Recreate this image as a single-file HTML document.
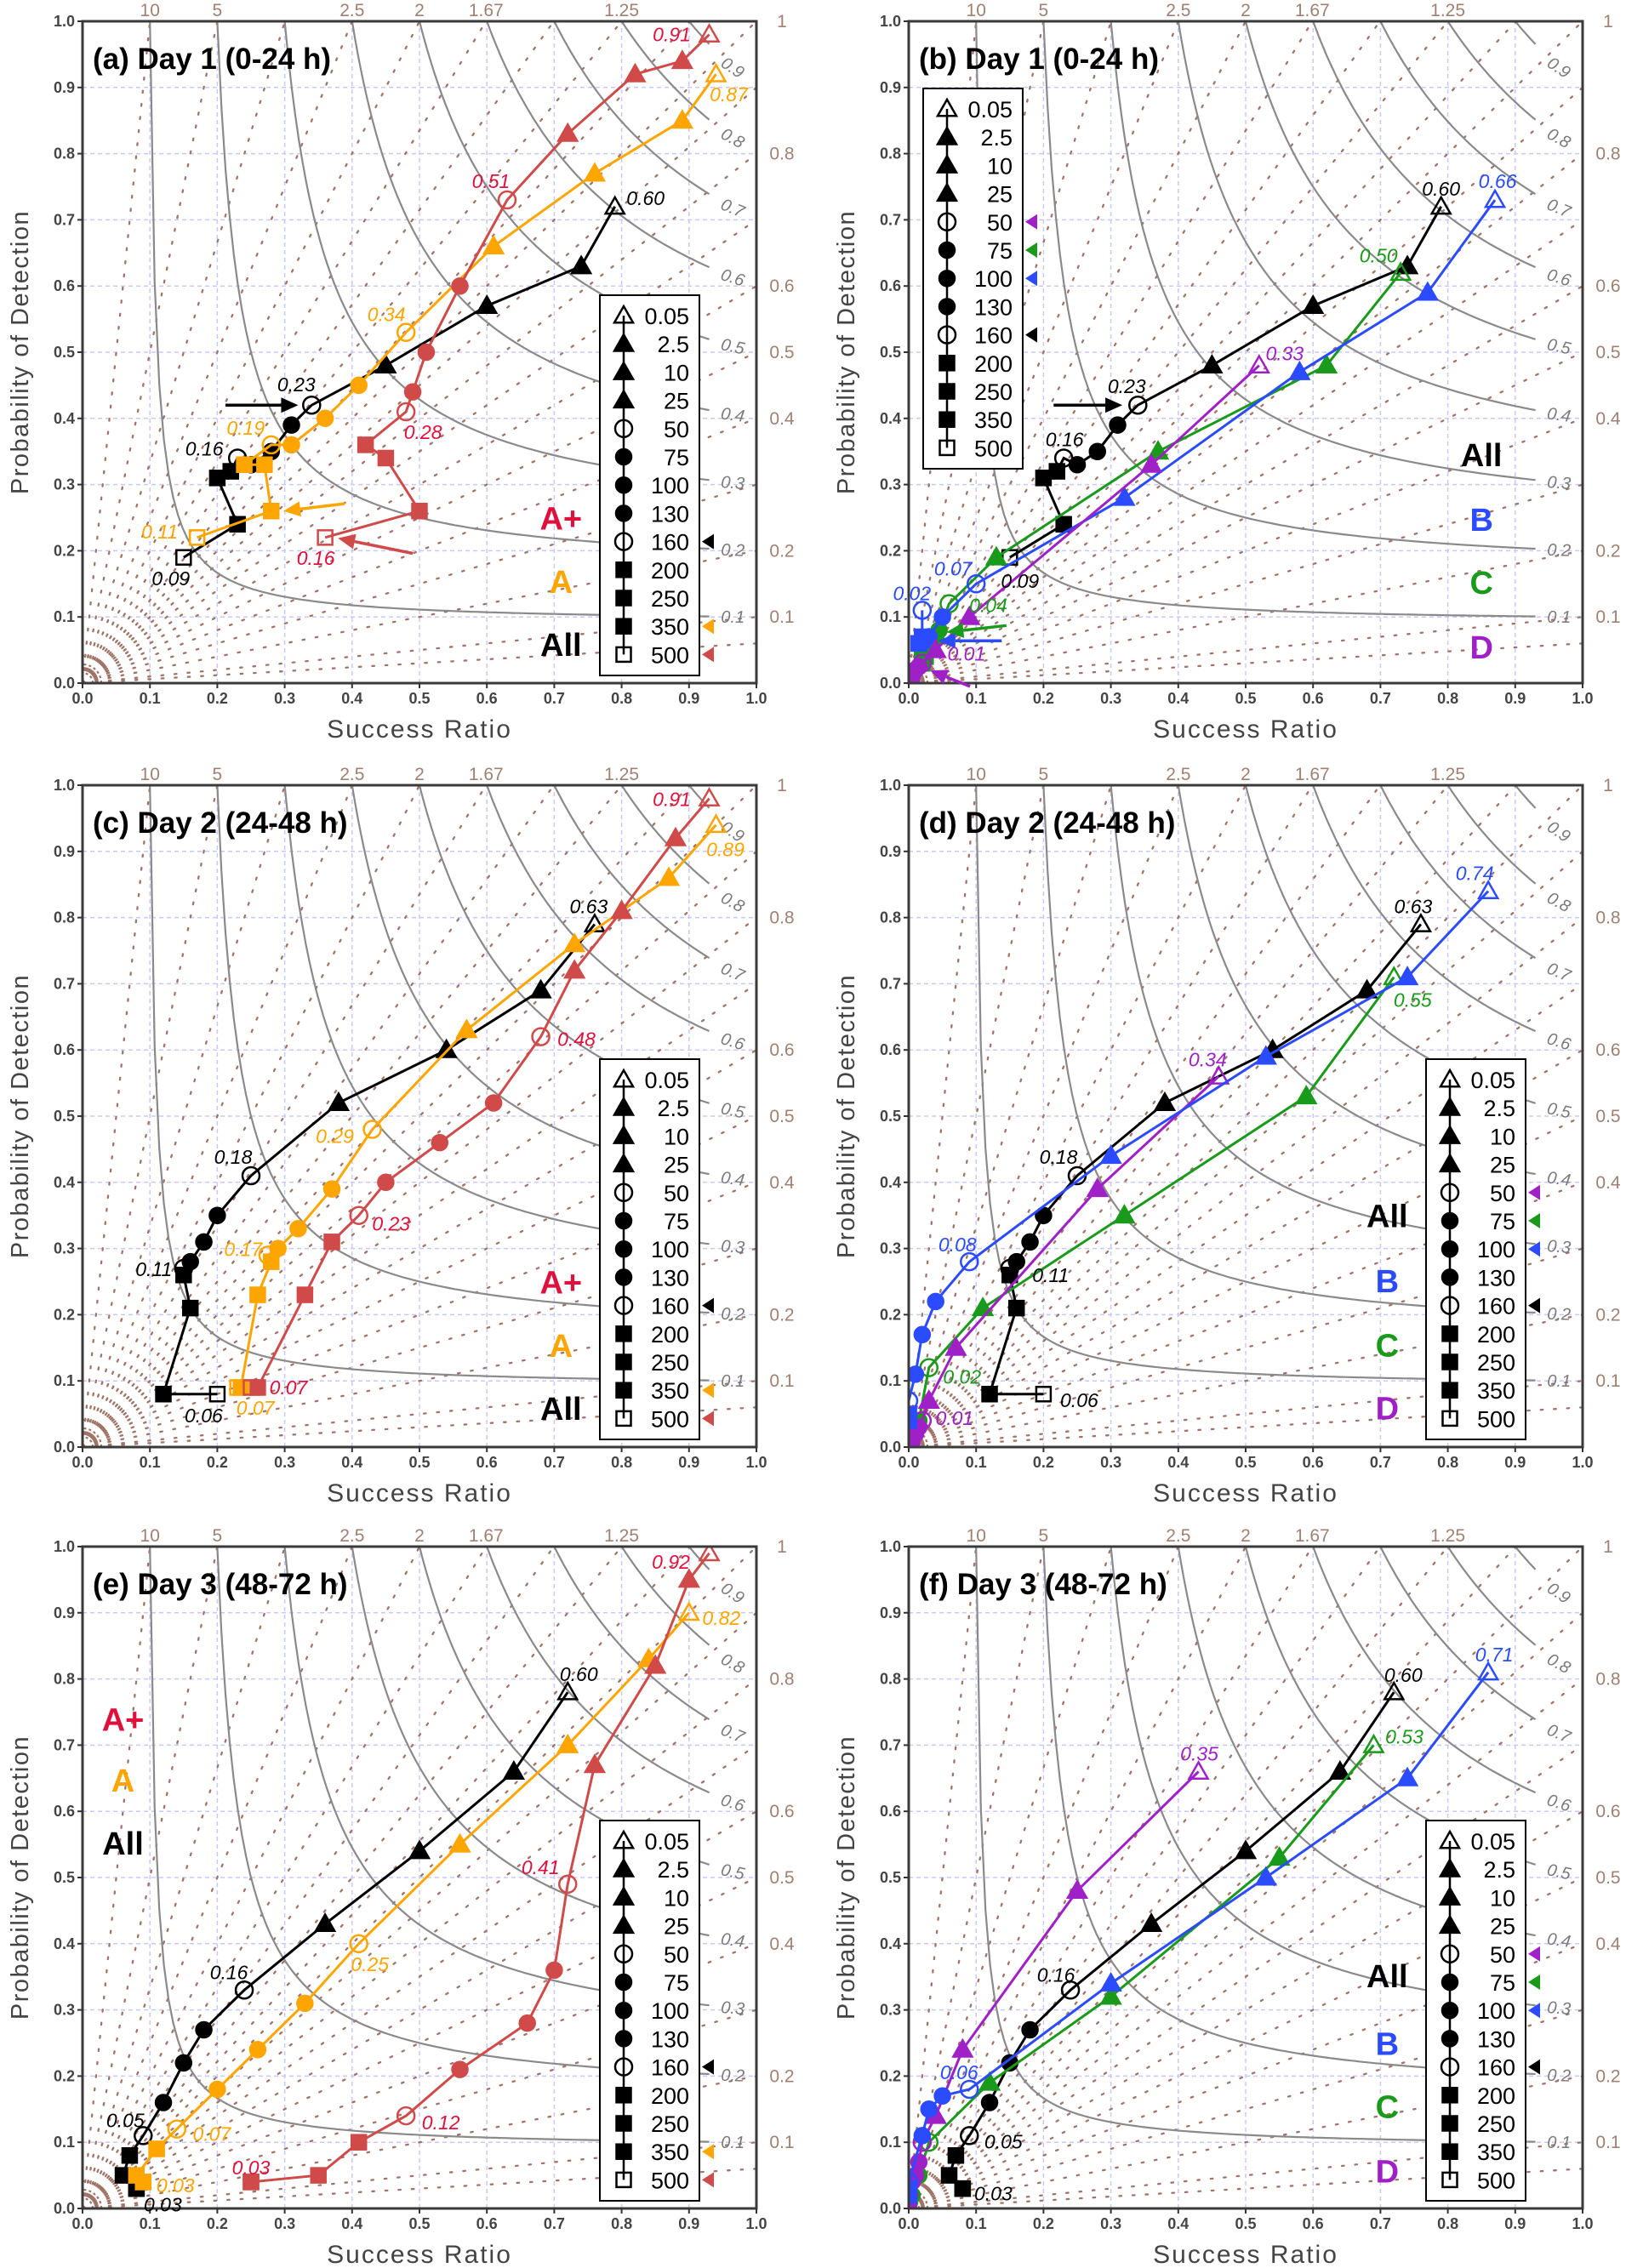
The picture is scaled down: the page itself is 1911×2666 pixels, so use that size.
<!DOCTYPE html>
<html><head><meta charset="utf-8"><title>Performance diagrams</title>
<style>
html,body{margin:0;padding:0;background:#fff;}
svg{display:block;}
text{font-family:"Liberation Sans",sans-serif;}
</style></head>
<body>
<svg id="fig" xmlns="http://www.w3.org/2000/svg" width="1911" height="2666" viewBox="0 0 1911 2666">
<rect x="0" y="0" width="1911" height="2666" fill="#fff"/>
</svg>
<script>
// ---- data ----
const thresholds = ['0.05','2.5','10','25','50','75','100','130','160','200','250','350','500'];
const markerKinds = ['otri','tri','tri','tri','ocirc','circ','circ','circ','ocirc','sq','sq','sq','osq'];
const csiLevels = [0.1,0.2,0.3,0.4,0.5,0.6,0.7,0.8,0.9];
const biasLevels = [0.06,0.1,0.2,0.3,0.4,0.5,0.6,0.7,0.8,0.9,1,1.11,1.25,1.43,1.67,2,2.5,3.33,5,10];
const topBiasLabels = ['10','5','2.5','2','1.67','1.25'];
const topBiasValues = [10,5,2.5,2,1.67,1.25];
const rightBiasLabels = ['1','0.8','0.6','0.5','0.4','0.2','0.1'];
const rightBiasValues = [1,0.8,0.6,0.5,0.4,0.2,0.1];
const tickValues = [0,0.1,0.2,0.3,0.4,0.5,0.6,0.7,0.8,0.9,1.0];

const d1AllSR  = [0.79,0.74,0.60,0.45,0.34,0.31,0.28,0.25,0.23,0.22,0.20,0.23,0.15];
const d1AllPOD = [0.72,0.63,0.57,0.48,0.42,0.39,0.35,0.33,0.34,0.32,0.31,0.24,0.19];
const aASR  = [0.94,0.89,0.76,0.61,0.48,0.41,0.36,0.31,0.28,0.24,0.27,0.28,0.17];
const aAPOD = [0.92,0.85,0.77,0.66,0.53,0.45,0.40,0.36,0.36,0.33,0.33,0.26,0.22];
const aAPlusSR  = [0.93,0.89,0.82,0.72,0.63,0.56,0.51,0.49,0.48,0.42,0.45,0.50,0.36];
const aAPlusPOD = [0.98,0.94,0.92,0.83,0.73,0.60,0.50,0.44,0.41,0.36,0.34,0.26,0.22];
const bBSR  = [0.87,0.77,0.58,0.32,0.10,0.05,0.03,0.02,0.02,0.02,0.02,0.015,0.015];
const bBPOD = [0.73,0.59,0.47,0.28,0.15,0.10,0.07,0.065,0.11,0.07,0.065,0.06,0.06];
const bCSR  = [0.73,0.62,0.37,0.13,0.06,0.045,0.04,0.035,0.03,0.025,0.02,0.02,0.02];
const bCPOD = [0.62,0.48,0.35,0.19,0.12,0.08,0.07,0.06,0.05,0.04,0.035,0.03,0.03];
const bDSR  = [0.52,0.36,0.09,0.04,0.02,0.015,0.01,0.01,0.005,0.005,0.0,0.0,0.0];
const bDPOD = [0.48,0.33,0.10,0.05,0.03,0.025,0.02,0.02,0.015,0.01,0.01,0.005,0.005];

const d2AllSR  = [0.76,0.68,0.54,0.38,0.25,0.20,0.18,0.16,0.15,0.15,0.16,0.12,0.20];
const d2AllPOD = [0.79,0.69,0.60,0.52,0.41,0.35,0.31,0.28,0.27,0.26,0.21,0.08,0.08];
const cASR  = [0.94,0.87,0.73,0.57,0.43,0.37,0.32,0.29,0.275,0.28,0.26,0.235,0.23];
const cAPOD = [0.94,0.86,0.76,0.63,0.48,0.39,0.33,0.30,0.29,0.28,0.23,0.09,0.09];
const cAPlusSR  = [0.93,0.88,0.80,0.73,0.68,0.61,0.53,0.45,0.41,0.37,0.33,0.26,0.25];
const cAPlusPOD = [0.98,0.92,0.81,0.72,0.62,0.52,0.46,0.40,0.35,0.31,0.23,0.09,0.09];
const dBSR  = [0.86,0.74,0.53,0.30,0.09,0.04,0.02,0.01,0.0,0.0,0.0,0.0,0.0];
const dBPOD = [0.84,0.71,0.59,0.44,0.28,0.22,0.17,0.11,0.07,0.05,0.05,0.04,0.04];
const dCSR  = [0.72,0.59,0.32,0.11,0.03,0.015,0.01,0.005,0.005,0.0,0.0,0.0,0.0];
const dCPOD = [0.71,0.53,0.35,0.21,0.12,0.04,0.03,0.025,0.02,0.02,0.02,0.02,0.02];
const dDSR  = [0.46,0.28,0.07,0.03,0.02,0.015,0.01,0.01,0.005,0.005,0.0,0.0,0.0];
const dDPOD = [0.56,0.39,0.15,0.07,0.04,0.03,0.025,0.02,0.015,0.01,0.01,0.005,0.005];

const d3AllSR  = [0.72,0.64,0.50,0.36,0.24,0.18,0.15,0.12,0.09,0.07,0.06,0.08,0.08];
const d3AllPOD = [0.78,0.66,0.54,0.43,0.33,0.27,0.22,0.16,0.11,0.08,0.05,0.03,0.03];
const eASR  = [0.90,0.84,0.72,0.56,0.41,0.33,0.26,0.20,0.14,0.11,0.08,0.09,0.09];
const eAPOD = [0.90,0.83,0.70,0.55,0.40,0.31,0.24,0.18,0.12,0.09,0.05,0.04,0.04];
const eAPlusSR  = [0.93,0.90,0.85,0.76,0.72,0.70,0.66,0.56,0.48,0.41,0.35,0.25,0.25];
const eAPlusPOD = [0.99,0.95,0.82,0.67,0.49,0.36,0.28,0.21,0.14,0.10,0.05,0.04,0.04];
const fBSR  = [0.86,0.74,0.53,0.30,0.09,0.05,0.03,0.02,0.0,0.0,0.0,0.0,0.0];
const fBPOD = [0.81,0.65,0.50,0.34,0.18,0.17,0.15,0.11,0.04,0.03,0.03,0.02,0.02];
const fCSR  = [0.69,0.55,0.30,0.12,0.03,0.015,0.005,0.0,0.0,0.0,0.0,0.0,0.0];
const fCPOD = [0.70,0.53,0.32,0.19,0.10,0.05,0.02,0.01,0.01,0.01,0.01,0.01,0.01];
const fDSR  = [0.43,0.25,0.08,0.04,0.02,0.015,0.01,0.005,0.0,0.0,0.0,0.0,0.0];
const fDPOD = [0.66,0.48,0.24,0.14,0.10,0.07,0.05,0.04,0.02,0.02,0.015,0.01,0.01];

// ---- style ----
const C = {black:'#000', orange:'#ffa500', red:'#d04a4a', blue:'#2a4bff', green:'#1a9a1a', purple:'#a020c8'};
const TXT = {black:'#000', orange:'#ffa500', red:'#e0103c', blue:'#2a4bff', green:'#1a9a1a', purple:'#a020c8'};
const W = 792, H = 778;

const panels = [
 {id:'a', title:'(a) Day 1 (0-24 h)', x0:97, y0:25, legend:'right', side:[[8,'black'],[11,'orange'],[12,'red']],
  series:[['all','black',d1AllSR,d1AllPOD],['a','orange',aASR,aAPOD],['a-plus','red',aAPlusSR,aAPlusPOD]],
  ann:[['black',0,'0.60',36,-10],['black',4,'0.23',-18,-24],['black',8,'0.16',-39,-11],['black',12,'0.09',-15,25],
       ['orange',0,'0.87',15,24],['orange',4,'0.34',-23,-21],['orange',8,'0.19',-30,-20],['orange',12,'0.11',-44,-7],
       ['red',0,'0.91',-44,0],['red',4,'0.51',-19,-22],['red',8,'0.28',20,24],['red',12,'0.16',-11,24]],
  arrows:[['black',0.212,0.42,0.32,0.42],['orange',0.389,0.271,0.298,0.26],['red',0.49,0.196,0.379,0.219]],
  groups:[['A+','red',0.71,0.25],['A','orange',0.71,0.154],['All','black',0.71,0.059]]},
 {id:'b', title:'(b) Day 1 (0-24 h)', x0:1068, y0:25, legend:'left', side:[[4,'purple'],[5,'green'],[6,'blue'],[8,'black']],
  series:[['all','black',d1AllSR,d1AllPOD],['c','green',bCSR,bCPOD],['b','blue',bBSR,bBPOD],['d','purple',bDSR,bDPOD]],
  ann:[['black',0,'0.60',0,-21],['black',4,'0.23',-13,-22],['black',8,'0.16',1,-22],['black',12,'0.09',12,28],
       ['blue',0,'0.66',3,-22],['blue',4,'0.07',-27,-18],['blue',8,'0.02',-12,-20],
       ['green',0,'0.50',-26,-20],['green',4,'0.04',46,2],['purple',0,'0.33',30,-14],['purple',4,'0.01',52,-11]],
  arrows:[['black',0.215,0.42,0.317,0.42],['green',0.145,0.087,0.056,0.077],['blue',0.138,0.064,0.044,0.064],['purple',0.091,-0.005,0.032,0.019]],
  groups:[['All','black',0.85,0.346],['B','blue',0.85,0.248],['C','green',0.85,0.153],['D','purple',0.85,0.055]]},
 {id:'c', title:'(c) Day 2 (24-48 h)', x0:97, y0:923, legend:'right', side:[[8,'black'],[11,'orange'],[12,'red']],
  series:[['all','black',d2AllSR,d2AllPOD],['a','orange',cASR,cAPOD],['a-plus','red',cAPlusSR,cAPlusPOD]],
  ann:[['black',0,'0.63',-7,-21],['black',4,'0.18',-21,-22],['black',8,'0.11',-35,1],['black',12,'0.06',-16,25],
       ['orange',0,'0.89',11,29],['orange',4,'0.29',-44,8],['orange',8,'0.17',-29,-7],['orange',12,'0.07',21,24],
       ['red',0,'0.91',-44,1],['red',4,'0.48',42,3],['red',8,'0.23',38,10],['red',12,'0.07',44,0]],
  arrows:[],
  groups:[['A+','red',0.71,0.25],['A','orange',0.71,0.154],['All','black',0.71,0.059]]},
 {id:'d', title:'(d) Day 2 (24-48 h)', x0:1068, y0:923, legend:'right', side:[[4,'purple'],[5,'green'],[6,'blue'],[8,'black']],
  series:[['all','black',d2AllSR,d2AllPOD],['c','green',dCSR,dCPOD],['d','purple',dDSR,dDPOD],['b','blue',dBSR,dBPOD]],
  ann:[['black',0,'0.63',-9,-21],['black',4,'0.18',-22,-22],['black',8,'0.11',48,8],['black',12,'0.06',42,7],
       ['blue',0,'0.74',-16,-21],['blue',4,'0.08',-14,-20],['green',0,'0.55',22,27],['green',4,'0.02',39,11],
       ['purple',0,'0.34',-13,-20],['purple',4,'0.01',38,-3]],
  arrows:[],
  groups:[['All','black',0.71,0.35],['B','blue',0.71,0.252],['C','green',0.71,0.155],['D','purple',0.71,0.06]]},
 {id:'e', title:'(e) Day 3 (48-72 h)', x0:97, y0:1818, legend:'right', side:[[8,'black'],[11,'orange'],[12,'red']],
  series:[['all','black',d3AllSR,d3AllPOD],['a','orange',eASR,eAPOD],['a-plus','red',eAPlusSR,eAPlusPOD]],
  ann:[['black',0,'0.60',13,-21],['black',4,'0.16',-18,-21],['black',8,'0.05',-21,-18],['black',12,'0.03',31,19],
       ['orange',0,'0.82',38,6],['orange',4,'0.25',13,24],['orange',8,'0.07',41,6],['orange',12,'0.03',38,4],
       ['red',0,'0.92',-45,10],['red',4,'0.41',-32,-20],['red',8,'0.12',41,8],['red',12,'0.03',0,-17]],
  arrows:[],
  groups:[['A+','red',0.06,0.74],['A','orange',0.06,0.648],['All','black',0.06,0.553]]},
 {id:'f', title:'(f) Day 3 (48-72 h)', x0:1068, y0:1818, legend:'right', side:[[4,'purple'],[5,'green'],[6,'blue'],[8,'black']],
  series:[['all','black',d3AllSR,d3AllPOD],['c','green',fCSR,fCPOD],['d','purple',fDSR,fDPOD],['b','blue',fBSR,fBPOD]],
  ann:[['black',0,'0.60',11,-20],['black',4,'0.16',-17,-18],['black',8,'0.05',40,7],['black',11,'0.03',36,6],
       ['blue',0,'0.71',7,-21],['blue',4,'0.06',-12,-20],['green',0,'0.53',36,-10],['purple',0,'0.35',1,-21]],
  arrows:[],
  groups:[['All','black',0.71,0.352],['B','blue',0.71,0.25],['C','green',0.71,0.155],['D','purple',0.71,0.057]]}
];

// ---- helpers ----
const NS = 'http://www.w3.org/2000/svg';
const svg = document.getElementById('fig');
function mk(parent, tag, attrs, name, txt) {
  const el = document.createElementNS(NS, tag);
  for (const k in attrs) el.setAttribute(k, attrs[k]);
  
  
  if (txt !== undefined) el.textContent = txt;
  parent.appendChild(el);
  return el;
}
function marker(g, kind, x, y, col, name) {
  const sw = 2.5;
  if (kind.endsWith('tri')) {
    const s = 11;
    mk(g, 'polygon', {points:`${x},${y-s} ${x+s},${y+s*0.75} ${x-s},${y+s*0.75}`, fill: kind==='otri'?'none':col, stroke:col, 'stroke-width':sw}, name);
  } else if (kind.endsWith('circ')) {
    mk(g, 'circle', {cx:x, cy:y, r:kind==='ocirc'?10:9, fill: kind==='ocirc'?'none':col, stroke:col, 'stroke-width':sw}, name);
  } else {
    const s = 8.5;
    mk(g, 'rect', {x:x-s, y:y-s, width:2*s, height:2*s, fill: kind==='osq'?'none':col, stroke:col, 'stroke-width':sw}, name);
  }
}

panels.forEach(p => {
  const sx = v => p.x0 + v * W;
  const sy = v => p.y0 + H - v * H;
  const g = mk(svg, 'g', {}, 'panel-' + p.id);
  const clipId = 'clip-' + p.id;
  const cp = mk(g, 'clipPath', {id: clipId}, 'plot-clip-' + p.id);
  mk(cp, 'rect', {x:p.x0, y:p.y0, width:W, height:H}, 'plot-clip-rect');
  const plot = mk(g, 'g', {'clip-path':`url(#${clipId})`}, 'plot-area-' + p.id);

  tickValues.slice(1,10).forEach(t => {
    mk(plot, 'line', {x1:sx(t), y1:sy(0), x2:sx(t), y2:sy(1), stroke:'#c8c8ff', 'stroke-width':1.5, 'stroke-dasharray':'5,4'}, 'grid-line-x');
    mk(plot, 'line', {x1:sx(0), y1:sy(t), x2:sx(1), y2:sy(t), stroke:'#c8c8ff', 'stroke-width':1.5, 'stroke-dasharray':'5,4'}, 'grid-line-y');
  });
  biasLevels.forEach(b => {
    const ex = b >= 1 ? 1 / b : 1, ey = b >= 1 ? 1 : b;
    mk(plot, 'line', {x1:sx(0), y1:sy(0), x2:sx(ex), y2:sy(ey), stroke:'#a07466', 'stroke-width':2.3, 'stroke-dasharray':'2.5,13', 'stroke-linecap':'round'}, 'bias-line');
  });
  [12,22,32].forEach(r => {
    mk(plot, 'path', {d:`M${sx(0)+r},${sy(0)} A${r},${r} 0 0 0 ${sx(0)},${sy(0)-r}`, fill:'none', stroke:'#a07466', 'stroke-width':2.2, 'stroke-dasharray':'3,3'}, 'origin-arc');
  });
  csiLevels.forEach(c => {
    let d = '';
    for (let i = 0; i <= 120; i++) {
      const s = c + (0.93 - c) * i / 120;
      const pod = 1 / (1 / c + 1 - 1 / s);
      d += (i ? 'L' : 'M') + sx(s).toFixed(1) + ',' + sy(Math.min(pod, 1)).toFixed(1);
    }
    mk(plot, 'path', {d, fill:'none', stroke:'#8a8a8a', 'stroke-width':2.2}, 'csi-contour');
    const ls = 0.965, lp = 1 / (1 / c + 1 - 1 / ls);
    const ang = Math.atan((lp * lp) / (ls * ls) * H / W) * 180 / Math.PI * 0.8;
    mk(plot, 'text', {x:sx(ls), y:sy(lp) + 7, 'text-anchor':'middle', 'font-size':20, 'font-style':'italic', fill:'#7a7a7a', transform:`rotate(${ang.toFixed(1)} ${sx(ls)} ${sy(lp)})`}, 'csi-label', String(c));
  });

  mk(g, 'rect', {x:p.x0, y:p.y0, width:W, height:H, fill:'none', stroke:'#3a3a3a', 'stroke-width':3}, 'plot-frame');
  tickValues.forEach(t => {
    mk(g, 'line', {x1:sx(t), y1:sy(0), x2:sx(t), y2:sy(0)+6, stroke:'#333', 'stroke-width':2}, 'x-tick');
    mk(g, 'line', {x1:sx(0)-6, y1:sy(t), x2:sx(0), y2:sy(t), stroke:'#333', 'stroke-width':2}, 'y-tick');
    mk(g, 'text', {x:sx(t), y:sy(0)+24, 'text-anchor':'middle', 'font-size':18, 'font-weight':'bold', fill:'#444'}, 'x-tick-label', t.toFixed(1));
    mk(g, 'text', {x:sx(0)-9, y:sy(t)+6, 'text-anchor':'end', 'font-size':18, 'font-weight':'bold', fill:'#444'}, 'y-tick-label', t.toFixed(1));
  });
  topBiasValues.forEach((b, i) => {
    mk(g, 'text', {x:sx(1 / b), y:p.y0 - 6, 'text-anchor':'middle', 'font-size':21, fill:'#a08070'}, 'top-bias-label', topBiasLabels[i]);
  });
  rightBiasValues.forEach((b, i) => {
    mk(g, 'text', {x:sx(1) + 30, y:sy(b) + 7, 'text-anchor':'middle', 'font-size':21, fill:'#a08070'}, 'right-bias-label', rightBiasLabels[i]);
  });
  mk(g, 'text', {x:sx(0.5), y:sy(0) + 64, 'text-anchor':'middle', 'font-size':30, fill:'#444', 'letter-spacing':'2'}, 'x-axis-title', 'Success Ratio');
  const ytx = p.x0 - 64, yty = sy(0.5);
  mk(g, 'text', {x:ytx, y:yty, 'text-anchor':'middle', 'font-size':29, fill:'#444', 'letter-spacing':'1.5', transform:`rotate(-90 ${ytx} ${yty})`}, 'y-axis-title', 'Probability of Detection');

  const lg = mk(g, 'g', {}, 'legend-' + p.id);
  const lb = p.legend === 'right' ? {x:p.x0 + 608, y:p.y0 + 322} : {x:p.x0 + 17, y:p.y0 + 79};
  mk(lg, 'rect', {x:lb.x, y:lb.y, width:117, height:447, fill:'#fff', stroke:'#000', 'stroke-width':2}, 'legend-box');
  const mx = lb.x + 28;
  mk(lg, 'line', {x1:mx, y1:lb.y + 24, x2:mx, y2:lb.y + 24 + 12 * 33.2, stroke:'#000', 'stroke-width':2.5}, 'legend-line');
  thresholds.forEach((t, i) => {
    const ry = lb.y + 24 + i * 33.2;
    marker(lg, markerKinds[i], mx, ry, '#000', 'legend-marker');
    mk(lg, 'text', {x:lb.x + 105, y:ry + 10, 'text-anchor':'end', 'font-size':27, fill:'#000'}, 'legend-entry', t);
  });
  p.side.forEach(s => {
    const ry = lb.y + 24 + s[0] * 33.2, xx = lb.x + 120;
    mk(lg, 'polygon', {points:`${xx},${ry} ${xx+14},${ry-9} ${xx+14},${ry+9}`, fill:C[s[1]]}, 'legend-side-marker');
  });

  p.series.forEach(s => {
    const [nm, col, xs, ys] = s;
    const sg = mk(plot, 'g', {}, 'series-' + nm);
    const pts = xs.map((v, i) => sx(v).toFixed(1) + ',' + sy(ys[i]).toFixed(1)).join(' ');
    mk(sg, 'polyline', {points:pts, fill:'none', stroke:C[col], 'stroke-width':3}, 'series-line-' + nm);
    for (let i = xs.length - 1; i >= 0; i--) marker(sg, markerKinds[i], sx(xs[i]), sy(ys[i]), C[col], 'point-' + nm);
  });
  p.arrows.forEach(a => {
    const [col, x1, y1, x2, y2] = a;
    const X1 = sx(x1), Y1 = sy(y1), X2 = sx(x2), Y2 = sy(y2);
    const ang = Math.atan2(Y2 - Y1, X2 - X1), L = 20, Wd = 9;
    const bx = X2 - L * Math.cos(ang), by = Y2 - L * Math.sin(ang);
    mk(g, 'line', {x1:X1, y1:Y1, x2:bx, y2:by, stroke:C[col], 'stroke-width':3.5}, 'pointer-arrow');
    mk(g, 'polygon', {points:`${X2},${Y2} ${bx - Wd*Math.sin(ang)},${by + Wd*Math.cos(ang)} ${bx + Wd*Math.sin(ang)},${by - Wd*Math.cos(ang)}`, fill:C[col]}, 'pointer-arrow-head');
  });
  p.ann.forEach(a => {
    const [col, idx, txt, dx, dy] = a;
    const s = p.series.find(q => q[1] === col);
    mk(g, 'text', {x:sx(s[2][idx]) + dx, y:sy(s[3][idx]) + dy + 8, 'text-anchor':'middle', 'font-size':23, 'font-style':'italic', fill:TXT[col]}, 'csi-value-label', txt);
  });
  p.groups.forEach(gl => {
    mk(g, 'text', {x:sx(gl[2]), y:sy(gl[3]) + 14, 'text-anchor':'middle', 'font-size':38, 'font-weight':'bold', fill:TXT[gl[1]]}, 'group-label', gl[0]);
  });
  mk(g, 'text', {x:p.x0 + 12, y:p.y0 + 56, 'font-size':35, 'font-weight':'bold', fill:'#000'}, 'panel-title', p.title);
});
</script>
</body></html>
